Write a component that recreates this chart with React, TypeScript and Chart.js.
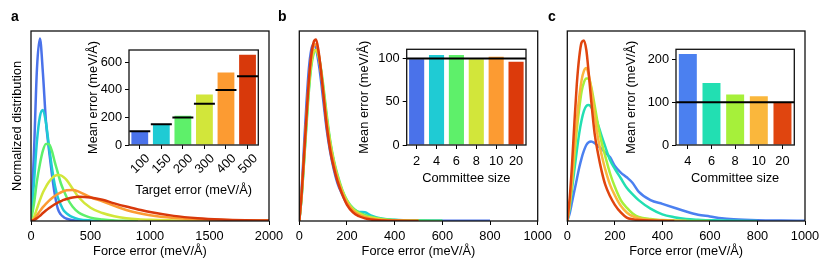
import React, { useEffect, useRef } from 'react';
import { Chart, registerables } from 'chart.js';

Chart.register(...registerables);

const W = 830;
const H = 275;
const FONT = '"Liberation Sans", Arial, Helvetica, sans-serif';
const FS = 12.8;

// ---------- Panel a: force error distributions for target errors ----------
const XA = [0, 25, 50, 75, 100, 125, 150, 175, 200, 225, 250, 275, 300, 350, 400, 500, 600, 700, 800, 900, 1000, 1200, 1400, 1600, 1800, 2000];
const A_T100 = [0, 0.36, 0.8, 0.96, 0.78, 0.53, 0.38, 0.25, 0.14, 0.065, 0.035, 0.02, 0.012, 0.004, 0.001, 0, null, null, null, null, null, null, null, null, null, null];
const A_T150 = [0, 0.2, 0.42, 0.55, 0.584, 0.52, 0.4, 0.285, 0.19, 0.125, 0.085, 0.055, 0.04, 0.02, 0.01, 0.003, 0.001, 0, null, null, null, null, null, null, null, null];
const A_T200 = [0, 0.09, 0.21, 0.3, 0.37, 0.405, 0.405, 0.37, 0.31, 0.255, 0.2, 0.16, 0.125, 0.075, 0.045, 0.018, 0.008, 0.003, 0.001, 0, null, null, null, null, null, null];
const A_T300 = [0, 0.02, 0.065, 0.11, 0.15, 0.18, 0.205, 0.225, 0.238, 0.242, 0.24, 0.23, 0.215, 0.17, 0.125, 0.07, 0.042, 0.025, 0.015, 0.009, 0.006, 0.003, 0.001, 0, 0, 0];
const A_T400 = [0, 0.01, 0.03, 0.052, 0.073, 0.09, 0.106, 0.12, 0.132, 0.142, 0.15, 0.157, 0.162, 0.163, 0.155, 0.125, 0.103, 0.08, 0.058, 0.042, 0.03, 0.016, 0.009, 0.005, 0.003, 0.002];
const A_T500 = [0, 0.005, 0.015, 0.027, 0.042, 0.055, 0.067, 0.078, 0.088, 0.097, 0.104, 0.111, 0.116, 0.124, 0.128, 0.124, 0.112, 0.093, 0.076, 0.061, 0.047, 0.027, 0.015, 0.008, 0.004, 0.002];
const A_COLORS = ['#4a72ea', '#1fcbd4', '#5ef06a', '#d2e63a', '#fc9b32', '#d8390b'];
const A_XTICKS = [0, 500, 1000, 1500, 2000];

// Inset a
const IA_LABELS = ['100', '150', '200', '300', '400', '500'];
const IA_MEAN = [102, 147, 213, 366, 526, 656];
const IA_TARGET = [100, 150, 200, 300, 400, 500];
const IA_YTICKS = [0, 200, 400, 600];

// ---------- Panel b: committee sizes ----------
const XB = [0, 10, 20, 30, 40, 50, 60, 70, 80, 90, 100, 115, 130, 145, 160, 180, 200, 225, 250, 275, 300, 350, 400, 500, 600, 700, 800];
const B_C2 = [0, 0.17, 0.4, 0.62, 0.8, 0.9, 0.93, 0.91, 0.84, 0.75, 0.64, 0.48, 0.36, 0.27, 0.2, 0.14, 0.09, 0.055, 0.032, 0.02, 0.013, 0.006, 0.004, 0.002, 0.001, 0.001, 0.001];
const B_C4 = [0, 0.13, 0.32, 0.52, 0.7, 0.83, 0.89, 0.9, 0.87, 0.8, 0.7, 0.54, 0.41, 0.31, 0.235, 0.16, 0.105, 0.068, 0.048, 0.046, 0.03, 0.012, 0.006, 0.002, 0.001, null, null];
const B_C6 = [0, 0.13, 0.31, 0.5, 0.68, 0.81, 0.88, 0.9, 0.88, 0.81, 0.72, 0.56, 0.42, 0.32, 0.245, 0.165, 0.11, 0.068, 0.045, 0.032, 0.022, 0.01, 0.005, 0.002, 0.001, null, null];
const B_C8 = [0, 0.14, 0.33, 0.53, 0.71, 0.83, 0.89, 0.9, 0.87, 0.8, 0.7, 0.54, 0.41, 0.31, 0.235, 0.16, 0.105, 0.063, 0.04, 0.026, 0.018, 0.008, 0.004, 0.001, null, null, null];
const B_C10 = [0, 0.14, 0.34, 0.55, 0.73, 0.86, 0.92, 0.93, 0.89, 0.8, 0.69, 0.52, 0.39, 0.3, 0.225, 0.15, 0.095, 0.055, 0.032, 0.02, 0.012, 0.005, 0.002, 0.001, null, null, null];
const B_C20 = [0, 0.15, 0.35, 0.55, 0.74, 0.87, 0.94, 0.955, 0.9, 0.8, 0.68, 0.5, 0.37, 0.28, 0.21, 0.14, 0.085, 0.045, 0.025, 0.014, 0.008, 0.003, 0.001, 0, null, null, null];
const B_COLORS = ['#4a72ea', '#1fcbd4', '#5ef06a', '#d2e63a', '#fc9b32', '#dc3a0b'];
const BC_XTICKS = [0, 200, 400, 600, 800, 1000];

// Inset b
const IB_LABELS = ['2', '4', '6', '8', '10', '20'];
const IB_MEAN = [99, 104, 104, 99, 102, 96];
const IB_YTICKS = [0, 50, 100];
const IB_REF = 100;

// ---------- Panel c ----------
const XC = [0, 10, 20, 30, 40, 50, 60, 70, 80, 90, 100, 115, 130, 145, 160, 180, 200, 225, 250, 275, 300, 350, 400, 450, 500, 550, 600, 650, 700, 800, 900, 1000];
const C_C4 = [0, 0.04, 0.1, 0.16, 0.22, 0.28, 0.33, 0.37, 0.4, 0.415, 0.418, 0.41, 0.395, 0.378, 0.36, 0.335, 0.29, 0.255, 0.23, 0.2, 0.155, 0.11, 0.09, 0.07, 0.05, 0.033, 0.024, 0.014, 0.009, 0.004, 0.002, 0.001];
const C_C6 = [0, 0.07, 0.17, 0.27, 0.37, 0.46, 0.53, 0.58, 0.605, 0.61, 0.6, 0.565, 0.505, 0.445, 0.39, 0.32, 0.275, 0.225, 0.175, 0.14, 0.11, 0.065, 0.035, 0.02, 0.01, 0.006, 0.004, 0.002, 0.001, 0, null, null];
const C_C8 = [0, 0.08, 0.2, 0.34, 0.48, 0.59, 0.68, 0.73, 0.75, 0.75, 0.71, 0.61, 0.5, 0.41, 0.34, 0.25, 0.18, 0.11, 0.07, 0.04, 0.022, 0.01, 0.005, 0.002, 0.001, 0, 0, null, null, null, null, null];
const C_C10 = [0, 0.09, 0.22, 0.38, 0.53, 0.65, 0.74, 0.79, 0.805, 0.77, 0.7, 0.56, 0.43, 0.345, 0.27, 0.19, 0.135, 0.08, 0.045, 0.025, 0.015, 0.006, 0.003, 0.001, 0, null, null, null, null, null, null, null];
const C_C20 = [0, 0.12, 0.3, 0.52, 0.72, 0.86, 0.94, 0.95, 0.9, 0.78, 0.64, 0.46, 0.35, 0.26, 0.19, 0.13, 0.085, 0.045, 0.018, 0.009, 0.005, 0.002, 0.001, 0, null, null, null, null, null, null, null, null];
const C_COLORS = ['#4b80f0', '#22dfb2', '#a6f03a', '#fab73c', '#e0450f'];

// Inset c
const IC_LABELS = ['4', '6', '8', '10', '20'];
const IC_MEAN = [213, 145, 118, 114, 99];
const IC_YTICKS = [0, 100, 200];
const IC_REF = 100;

const font = { family: FONT, size: FS };
const plainNumber = (v: any) => String(v);

const framePlugin = {
  id: 'frame',
  beforeDatasetsDraw(chart: any, _a: any, opts: any) {
    if (!opts.fill) return;
    const { ctx, chartArea: a } = chart;
    ctx.save();
    ctx.fillStyle = '#fff';
    ctx.fillRect(a.left, a.top, a.right - a.left, a.bottom - a.top);
    ctx.restore();
  },
  afterDatasetsDraw(chart: any, _a: any, opts: any) {
    const { ctx, chartArea: a } = chart;
    ctx.save();
    if (opts.ref != null) {
      const y = chart.scales.y.getPixelForValue(opts.ref);
      ctx.strokeStyle = '#000';
      ctx.lineWidth = 2;
      ctx.beginPath();
      ctx.moveTo(a.left, y);
      ctx.lineTo(a.right, y);
      ctx.stroke();
    }
    ctx.strokeStyle = '#111';
    ctx.lineWidth = 1.3;
    ctx.strokeRect(a.left, a.top, a.right - a.left, a.bottom - a.top);
    ctx.restore();
  },
};
Chart.register(framePlugin as any);

function mainConfig(p: {
  xs: number[]; series: (number | null)[][]; colors: string[]; xmax: number; xticks: number[];
  left: number; right: number; yTitle: boolean;
}): any {
  const YW = p.yTitle ? 31 : 10;
  const n = p.series.length;
  return {
    type: 'line',
    data: {
      datasets: p.series.map((ys, i) => ({
        data: p.xs.map((x, j) => ({ x, y: ys[j] })),
        borderColor: p.colors[i],
        borderWidth: 2.5,
        pointRadius: 0,
        fill: false,
        cubicInterpolationMode: 'monotone',
        spanGaps: false,
        order: n - i,
      })),
    },
    options: {
      animation: false,
      responsive: false,
      events: [],
      layout: { padding: { left: p.left - YW, right: W - p.right, top: 31, bottom: 0 } },
      plugins: { legend: { display: false }, tooltip: { enabled: false }, frame: { ref: null, fill: false } },
      scales: {
        x: {
          type: 'linear', min: 0, max: p.xmax,
          afterBuildTicks: (s: any) => { s.ticks = p.xticks.map((v) => ({ value: v })); },
          ticks: { font, color: '#000', padding: 4, maxRotation: 0, autoSkip: false, callback: plainNumber },
          grid: { drawOnChartArea: false, tickLength: 4, color: '#000', lineWidth: 1 },
          border: { display: false },
          title: { display: true, text: 'Force error (meV/Å)', font, color: '#000', padding: { top: 0, bottom: 16 } },
          afterFit: (s: any) => { s.height = H - 221; },
        },
        y: {
          min: 0, max: 1,
          ticks: { display: false },
          grid: { display: false },
          border: { display: false },
          title: { display: p.yTitle, text: 'Normalized distribution', font, color: '#000', padding: { top: 9.6, bottom: 0 } },
          afterFit: (s: any) => { s.width = YW; },
        },
      },
    },
  };
}

function insetConfig(p: {
  labels: string[]; values: number[]; colors: string[]; targets?: number[]; ref?: number;
  ymax: number; yticks: number[]; left: number; right: number; top: number; bottom: number;
  yAxisW: number; yTitlePad: number; xAxisH: number; xTitlePad: number; xTitle: string;
  rotate: number; barPct: number; labelOffset: number; tickPad: number;
}): any {
  const datasets: any[] = [
    {
      type: 'bar', data: p.values, backgroundColor: p.colors, borderWidth: 0,
      barPercentage: p.barPct, categoryPercentage: 1, order: 2,
    },
  ];
  if (p.targets) {
    datasets.push({
      type: 'line', data: p.targets, showLine: false, pointStyle: 'line', pointRadius: 10.5,
      pointBorderWidth: 2, pointBorderColor: '#000', borderColor: '#000', order: 0,
    });
  }
  return {
    type: 'bar',
    data: { labels: p.labels, datasets },
    options: {
      animation: false,
      responsive: false,
      events: [],
      layout: { padding: { left: p.left - p.yAxisW, right: W - p.right, top: p.top, bottom: H - p.bottom - p.xAxisH } },
      plugins: { legend: { display: false }, tooltip: { enabled: false }, frame: { ref: p.ref ?? null, fill: true } },
      scales: {
        x: {
          type: 'category',
          ticks: { font, color: '#000', padding: p.tickPad, minRotation: p.rotate, maxRotation: p.rotate, autoSkip: false, labelOffset: p.labelOffset },
          grid: { offset: false, drawOnChartArea: false, tickLength: 4, color: '#000', lineWidth: 1 },
          border: { display: false },
          title: { display: true, text: p.xTitle, font, color: '#000', padding: { top: 0, bottom: p.xTitlePad } },
          afterFit: (s: any) => { s.height = p.xAxisH; },
        },
        y: {
          min: 0, max: p.ymax,
          afterBuildTicks: (s: any) => { s.ticks = p.yticks.map((v) => ({ value: v })); },
          ticks: { font, color: '#000', padding: 3, callback: plainNumber },
          grid: { drawOnChartArea: false, tickLength: 4, color: '#000', lineWidth: 1 },
          border: { display: false },
          title: { display: true, text: 'Mean error (meV/Å)', font, color: '#000', padding: { top: p.yTitlePad, bottom: 0 } },
          afterFit: (s: any) => { s.width = p.yAxisW; },
        },
      },
    },
  };
}

const configs = [
  () => mainConfig({ xs: XA, series: [A_T100, A_T150, A_T200, A_T300, A_T400, A_T500], colors: A_COLORS, xmax: 2000, xticks: A_XTICKS, left: 31, right: 269, yTitle: true }),
  () => mainConfig({ xs: XB, series: [B_C2, B_C4, B_C6, B_C8, B_C10, B_C20], colors: B_COLORS, xmax: 1000, xticks: BC_XTICKS, left: 299.3, right: 537.7, yTitle: false }),
  () => mainConfig({ xs: XC, series: [C_C4, C_C6, C_C8, C_C10, C_C20], colors: C_COLORS, xmax: 1000, xticks: BC_XTICKS, left: 567.3, right: 805, yTitle: false }),
  () => insetConfig({ labels: IA_LABELS, values: IA_MEAN, colors: A_COLORS, targets: IA_TARGET, ymax: 690, yticks: IA_YTICKS,
    left: 129, right: 258.3, top: 50, bottom: 145, yAxisW: 45, yTitlePad: 2, xAxisH: 54, xTitlePad: 1,
    xTitle: 'Target error (meV/Å)', rotate: 45, barPct: 0.78, labelOffset: 8, tickPad: 2 }),
  () => insetConfig({ labels: IB_LABELS, values: IB_MEAN, colors: B_COLORS, ref: IB_REF, ymax: 110.5, yticks: IB_YTICKS,
    left: 406.7, right: 526, top: 49.3, bottom: 145, yAxisW: 52, yTitlePad: 2, xAxisH: 42, xTitlePad: 1,
    xTitle: 'Committee size', rotate: 0, barPct: 0.76, labelOffset: 0, tickPad: 5 }),
  () => insetConfig({ labels: IC_LABELS, values: IC_MEAN, colors: C_COLORS, ref: IC_REF, ymax: 224, yticks: IC_YTICKS,
    left: 676, right: 794.3, top: 49.3, bottom: 145, yAxisW: 54, yTitlePad: 1.3, xAxisH: 42, xTitlePad: 1,
    xTitle: 'Committee size', rotate: 0, barPct: 0.76, labelOffset: 0, tickPad: 5 }),
];

const PANEL_LETTERS = [
  { text: 'a', left: 11 },
  { text: 'b', left: 278 },
  { text: 'c', left: 548 },
];

export default function App() {
  const refs = useRef<(HTMLCanvasElement | null)[]>([]);
  useEffect(() => {
    const charts = configs.map((cfg, i) => new Chart(refs.current[i] as HTMLCanvasElement, cfg()));
    return () => charts.forEach((c) => c.destroy());
  }, []);
  return (
    <div style={{ position: 'absolute', left: 0, top: 0, width: W, height: H, background: '#fff', overflow: 'hidden' }}>
      {configs.map((_, i) => (
        <canvas
          key={i}
          ref={(el) => { refs.current[i] = el; }}
          width={W}
          height={H}
          style={{ position: 'absolute', left: 0, top: 0, width: W, height: H }}
        />
      ))}
      {PANEL_LETTERS.map((l) => (
        <div key={l.text} style={{ position: 'absolute', left: l.left, top: 8, fontFamily: FONT, fontWeight: 'bold', fontSize: 14, lineHeight: '16px', color: '#000' }}>
          {l.text}
        </div>
      ))}
    </div>
  );
}
